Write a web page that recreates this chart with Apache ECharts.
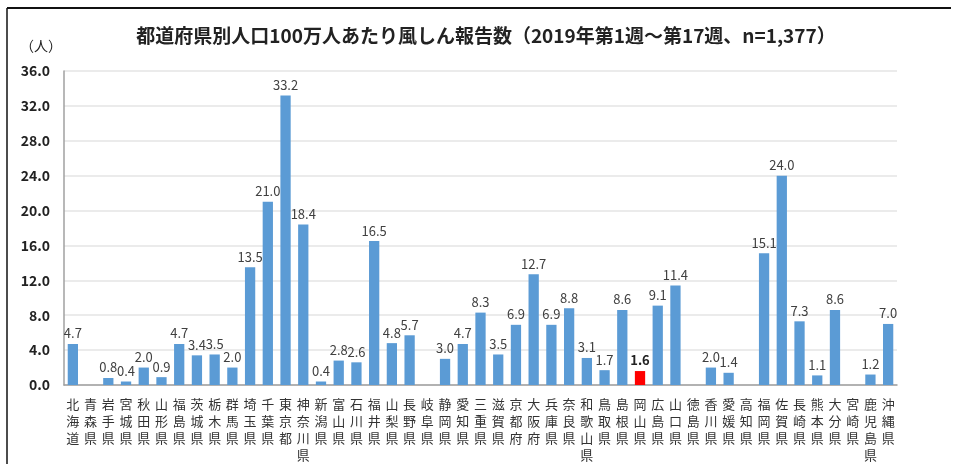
<!DOCTYPE html>
<html>
<head>
<meta charset="utf-8">
<script src="https://cdn.jsdelivr.net/npm/echarts@6/dist/echarts.min.js"></script>
<style>
  html, body { margin: 0; padding: 0; background: #fff; }
  #chart { width: 954px; height: 464px; }
</style>
</head>
<body>
<div id="chart"></div>
<script>
// 都道府県
const prefectures = [
  '北海道', '青森県', '岩手県', '宮城県', '秋田県', '山形県', '福島県', '茨城県', '栃木県', '群馬県',
  '埼玉県', '千葉県', '東京都', '神奈川県', '新潟県', '富山県', '石川県', '福井県', '山梨県', '長野県',
  '岐阜県', '静岡県', '愛知県', '三重県', '滋賀県', '京都府', '大阪府', '兵庫県', '奈良県', '和歌山県',
  '鳥取県', '島根県', '岡山県', '広島県', '山口県', '徳島県', '香川県', '愛媛県', '高知県', '福岡県',
  '佐賀県', '長崎県', '熊本県', '大分県', '宮崎県', '鹿児島県', '沖縄県'
]
// 人口100万人あたり報告数
const reports = [
  4.7, 0, 0.8, 0.4, 2.0, 0.9, 4.7, 3.4, 3.5, 2.0,
  13.5, 21.0, 33.2, 18.4, 0.4, 2.8, 2.6, 16.5, 4.8, 5.7,
  0, 3.0, 4.7, 8.3, 3.5, 6.9, 12.7, 6.9, 8.8, 3.1,
  1.7, 8.6, 1.6, 9.1, 11.4, 0, 2.0, 1.4, 0, 15.1,
  24.0, 7.3, 1.1, 8.6, 0, 1.2, 7.0
]
const yTicks = [0, 4, 8, 12, 16, 20, 24, 28, 32, 36]
const highlight = '岡山県'

const chart = echarts.init(document.getElementById('chart'))

const barData = reports.map((v, i) => {
  if (prefectures[i] === highlight) {
    return {
      value: v,
      itemStyle: { color: '#ff0000' },
      label: { fontWeight: 'bold', color: '#222' }
    }
  }
  return v
})

chart.setOption({
  animation: false,
  textStyle: { fontFamily: '"Noto Sans CJK JP", "Noto Sans", sans-serif' },
  title: {
    text: '都道府県別人口100万人あたり風しん報告数（2019年第1週～第17週、n=1,377）',
    left: 481,
    top: 21,
    textAlign: 'center',
    textStyle: { fontSize: 19, fontWeight: 'bold', color: '#222' }
  },
  // 枠線
  graphic: [
    { type: 'line', shape: { x1: 7, y1: 8, x2: 951, y2: 8 }, style: { stroke: '#111', lineWidth: 2 } },
    { type: 'line', shape: { x1: 7, y1: 8, x2: 7, y2: 464 }, style: { stroke: '#111', lineWidth: 1.5 } },
    { type: 'text', left: 20, top: 39, style: { text: '（人）', font: '14px "Noto Sans CJK JP"', fill: '#222' } }
  ],
  grid: { left: 64, right: 57, top: 71, bottom: 77, containLabel: false },
  xAxis: {
    type: 'category',
    data: prefectures,
    axisLine: { lineStyle: { color: '#a0a0a0', width: 1.5 } },
    axisTick: { show: false },
    axisLabel: {
      interval: 0,
      margin: 11,
      fontSize: 13,
      lineHeight: 17,
      color: '#333',
      formatter: v => v.split('').join('\n')
    }
  },
  yAxis: {
    type: 'value',
    min: 0,
    max: 36,
    interval: 4,
    axisLine: { show: true, lineStyle: { color: '#a0a0a0', width: 1.5 } },
    axisTick: { show: false },
    splitLine: { lineStyle: { color: '#e4e4e4', width: 1.5 } },
    axisLabel: {
      margin: 14,
      fontSize: 14,
      fontWeight: 'bold',
      color: '#222',
      formatter: v => yTicks.includes(v) ? v.toFixed(1) : ''
    }
  },
  series: [{
    type: 'bar',
    data: barData,
    barWidth: '58%',
    itemStyle: { color: '#5b9bd5' },
    label: {
      show: true,
      position: 'top',
      distance: 4,
      fontSize: 13,
      color: '#404040',
      formatter: p => p.value > 0 ? p.value.toFixed(1) : ''
    }
  }]
})
</script>
</body>
</html>
